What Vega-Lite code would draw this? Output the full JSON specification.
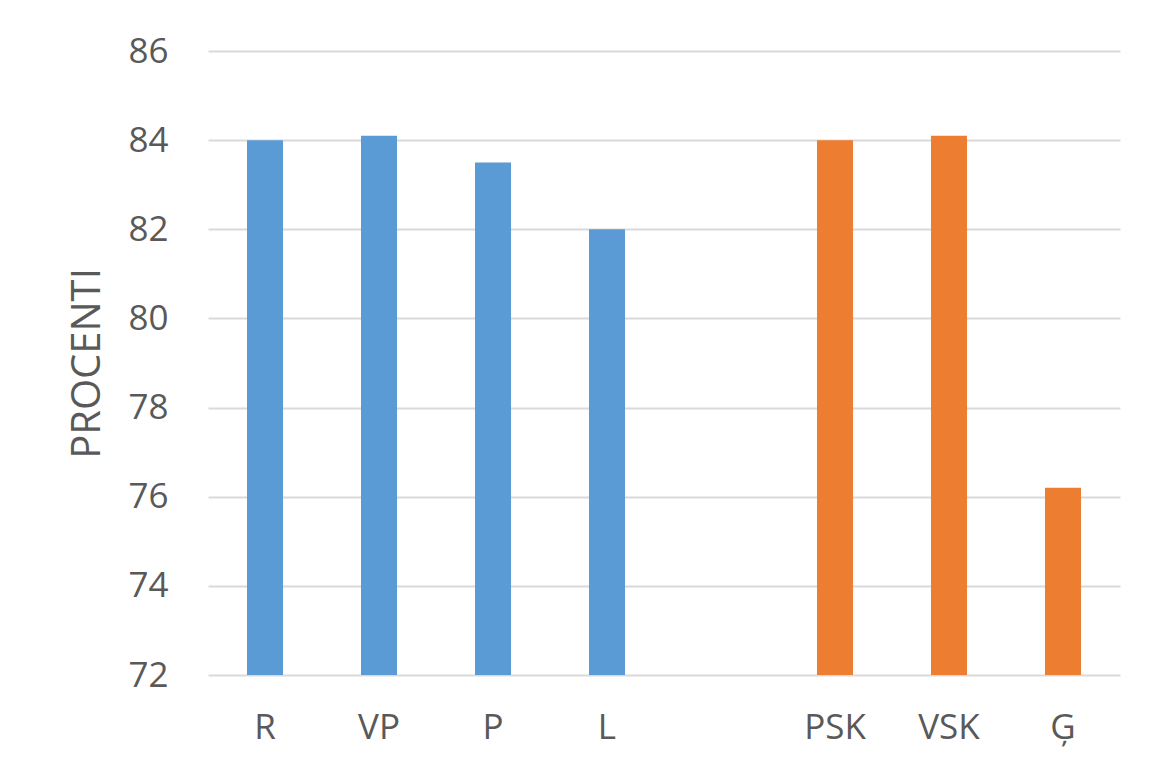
{
  "$schema": "https://vega.github.io/schema/vega-lite/v6.json",
  "autosize": "none",
  "width": 912,
  "height": 624,
  "padding": {"left": 208, "top": 51, "right": 52, "bottom": 107},
  "background": "white",
  "data": {
    "values": [
      {"cat": "R", "group": "A", "value": 84.0},
      {"cat": "VP", "group": "A", "value": 84.1},
      {"cat": "P", "group": "A", "value": 83.5},
      {"cat": "L", "group": "A", "value": 82.0},
      {"cat": "PSK", "group": "B", "value": 84.0},
      {"cat": "VSK", "group": "B", "value": 84.1},
      {"cat": "Ģ", "group": "B", "value": 76.2}
    ]
  },
  "mark": {"type": "bar", "clip": true},
  "encoding": {
    "x": {
      "field": "cat",
      "type": "nominal",
      "sort": null,
      "scale": {"domain": ["R", "VP", "P", "L", "_", "PSK", "VSK", "Ģ"], "paddingInner": 0.684, "paddingOuter": 0.342},
      "axis": {
        "title": null,
        "labelAngle": 0,
        "labelExpr": "datum.value == '_' ? '' : datum.value",
        "domain": false,
        "ticks": false,
        "labelPadding": 35,
        "labelFontSize": 35,
        "labelFont": "Open Sans",
        "labelColor": "#595959"
      }
    },
    "y": {
      "field": "value",
      "type": "quantitative",
      "scale": {"domain": [72, 86], "zero": false, "nice": false},
      "axis": {
        "title": "PROCENTI",
        "values": [72, 74, 76, 78, 80, 82, 84, 86],
        "domain": false,
        "ticks": false,
        "grid": true,
        "gridColor": "#D9D9D9",
        "gridWidth": 2,
        "labelPadding": 40,
        "labelFontSize": 35,
        "labelFont": "Open Sans",
        "labelColor": "#595959",
        "titleFont": "Open Sans",
        "titleFontSize": 40,
        "titleFontWeight": "normal",
        "titleColor": "#595959",
        "titlePadding": 20
      }
    },
    "color": {
      "field": "group",
      "type": "nominal",
      "scale": {"domain": ["A", "B"], "range": ["#5B9BD5", "#ED7D31"]},
      "legend": null
    }
  },
  "config": {"view": {"stroke": null}}
}
